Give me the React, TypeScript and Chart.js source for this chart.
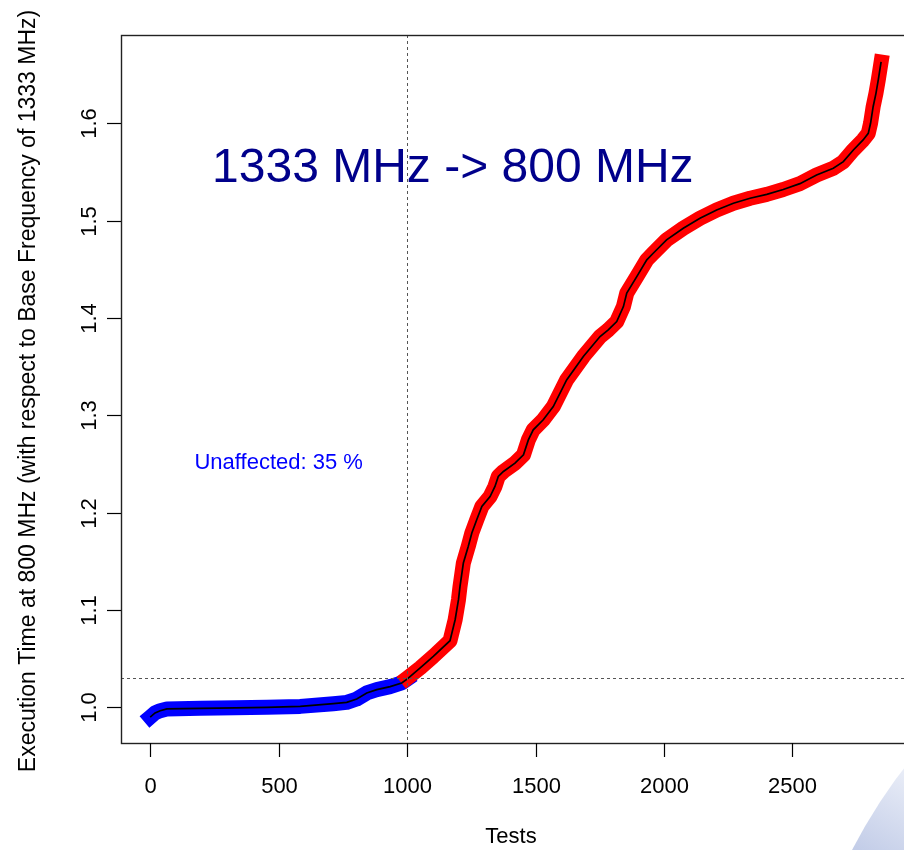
import React, { useEffect, useRef } from "react";
import { Chart, registerables } from "chart.js";

Chart.register(...registerables);

// ---- data ----
const blueTests = [0, 19, 39, 65, 195, 330, 454, 584, 713, 765, 804, 843, 882, 934, 979, 1000];
const blueTimes = [0.990, 0.9943, 0.9966, 0.9984, 0.999, 0.9995, 1.0, 1.001, 1.0038, 1.0051, 1.0086, 1.0148, 1.0182, 1.0213, 1.0251, 1.029];

const redTests = [1000, 1051, 1102, 1167, 1187, 1200, 1206, 1219, 1238, 1252, 1271, 1291, 1323, 1342, 1355, 1375, 1420, 1453, 1472, 1491, 1530, 1569, 1621, 1686, 1751, 1783, 1816, 1842, 1855, 1894, 1933, 1958, 2010, 2075, 2140, 2205, 2270, 2335, 2400, 2464, 2529, 2594, 2659, 2698, 2737, 2775, 2795, 2804, 2814, 2825, 2834, 2845];
const redTimes = [1.030, 1.0405, 1.0524, 1.0685, 1.090, 1.1106, 1.1242, 1.1483, 1.1653, 1.1791, 1.1927, 1.2064, 1.2166, 1.2269, 1.2372, 1.2423, 1.2509, 1.2594, 1.2748, 1.2851, 1.2954, 1.309, 1.3364, 1.3604, 1.3809, 1.3878, 1.3963, 1.4117, 1.4255, 1.4425, 1.4597, 1.4665, 1.4802, 1.4922, 1.5025, 1.511, 1.5179, 1.523, 1.527, 1.532, 1.538, 1.5469, 1.5538, 1.5606, 1.5726, 1.5829, 1.5897, 1.600, 1.617, 1.6308, 1.6445, 1.663];

const xTicks = [0, 500, 1000, 1500, 2000, 2500];
const yTicks = [1.0, 1.1, 1.2, 1.3, 1.4, 1.5, 1.6];
const yTickLabels = ["1.0", "1.1", "1.2", "1.3", "1.4", "1.5", "1.6"];

const thresholdTime = 1.03;
const thresholdTest = 1000;

const titleText = "1333 MHz -> 800 MHz";
const titlePos = [1178, 1.5577];
const noteText = "Unaffected: 35 %";
const notePos = [500, 1.253];
const xTitle = "Tests";
const yTitle = "Execution Time at 800 MHz (with respect to Base Frequency of 1333 MHz)";

const FONT = "'Liberation Sans', Arial, Helvetica, sans-serif";

const pts = (xs: number[], ys: number[]) => xs.map((x, i) => ({ x, y: ys[i] }));

const decorPlugin = {
  id: "rdecor",
  beforeDraw(chart: any) {
    const ctx = chart.ctx;
    ctx.save();
    // background swoosh decoration (bottom right)
    const g = ctx.createLinearGradient(912, 760, 860, 850);
    g.addColorStop(0, "#eef1f9");
    g.addColorStop(1, "#c3cde8");
    ctx.fillStyle = g;
    ctx.beginPath();
    ctx.moveTo(852, 850);
    ctx.quadraticCurveTo(878, 800, 912, 758);
    ctx.lineTo(912, 850);
    ctx.closePath();
    ctx.fill();
    ctx.restore();
  },
  afterDatasetsDraw(chart: any) {
    const ctx = chart.ctx;
    const xs = chart.scales.x;
    const ys = chart.scales.y;
    const { left, right, top, bottom } = chart.chartArea;
    ctx.save();

    // annotations
    ctx.textAlign = "center";
    ctx.textBaseline = "alphabetic";
    ctx.fillStyle = "#00008b";
    ctx.font = `48px ${FONT}`;
    ctx.fillText(titleText, xs.getPixelForValue(titlePos[0]), ys.getPixelForValue(titlePos[1]) + 0.716 * 48 / 2);
    ctx.fillStyle = "#0000ff";
    ctx.font = `22px ${FONT}`;
    ctx.fillText(noteText, xs.getPixelForValue(notePos[0]), ys.getPixelForValue(notePos[1]) + 0.716 * 22 / 2);

    // dashed reference lines
    ctx.strokeStyle = "#555";
    ctx.lineWidth = 1;
    ctx.setLineDash([3, 3]);
    const hy = Math.round(ys.getPixelForValue(thresholdTime)) + 0.5;
    ctx.beginPath();
    ctx.moveTo(left, hy);
    ctx.lineTo(right, hy);
    ctx.stroke();
    const vx = Math.round(xs.getPixelForValue(thresholdTest)) + 0.5;
    ctx.beginPath();
    ctx.moveTo(vx, top);
    ctx.lineTo(vx, bottom);
    ctx.stroke();
    ctx.setLineDash([]);

    // box
    ctx.strokeStyle = "#222";
    ctx.lineWidth = 1.4;
    ctx.strokeRect(left + 0.5, top + 0.5, right - left, bottom - top);

    // ticks & labels
    ctx.strokeStyle = "#000";
    ctx.lineWidth = 1.2;
    ctx.fillStyle = "#000";
    ctx.font = `22px ${FONT}`;
    xTicks.forEach((t) => {
      const x = Math.round(xs.getPixelForValue(t)) + 0.5;
      ctx.beginPath();
      ctx.moveTo(x, bottom);
      ctx.lineTo(x, bottom + 14);
      ctx.stroke();
      ctx.textAlign = "center";
      ctx.fillText(String(t), x, 793);
    });
    yTicks.forEach((t, i) => {
      const y = Math.round(ys.getPixelForValue(t)) + 0.5;
      ctx.beginPath();
      ctx.moveTo(left, y);
      ctx.lineTo(left - 14, y);
      ctx.stroke();
      ctx.save();
      ctx.translate(96, y);
      ctx.rotate(-Math.PI / 2);
      ctx.textAlign = "center";
      ctx.fillText(yTickLabels[i], 0, 0);
      ctx.restore();
    });

    // axis titles
    ctx.textAlign = "center";
    ctx.fillText(xTitle, 511, 843);
    ctx.save();
    ctx.font = `23px ${FONT}`;
    ctx.translate(35, (top + bottom) / 2 + 2);
    ctx.rotate(-Math.PI / 2);
    ctx.fillText(yTitle, 0, 0);
    ctx.restore();

    ctx.restore();
  },
};

export default function App() {
  const ref = useRef<HTMLCanvasElement>(null);
  useEffect(() => {
    if (!ref.current) return;
    const allTests = blueTests.concat(redTests.slice(1));
    const allTimes = blueTimes.concat(redTimes.slice(1));
    const chart = new Chart(ref.current, {
      type: "line",
      data: {
        datasets: [
          {
            data: pts(allTests, allTimes),
            borderColor: "#000",
            borderWidth: 1.7,
            pointRadius: 0,
            tension: 0,
            order: 0,
          },
          {
            data: pts(redTests, redTimes),
            borderColor: "#ff0000",
            borderWidth: 15,
            borderCapStyle: "square",
            borderJoinStyle: "round",
            pointRadius: 0,
            tension: 0,
            order: 1,
          },
          {
            data: pts(blueTests, blueTimes),
            borderColor: "#0000ff",
            borderWidth: 15,
            borderCapStyle: "square",
            borderJoinStyle: "round",
            pointRadius: 0,
            tension: 0,
            order: 2,
          },
        ] as any,
      },
      options: {
        animation: false,
        responsive: false,
        devicePixelRatio: 1,
        layout: { padding: { left: 121, top: 35, right: 3, bottom: 107 } },
        plugins: { legend: { display: false }, tooltip: { enabled: false } },
        events: [],
        scales: {
          x: { type: "linear", min: -113.6, max: 2953.6, display: false },
          y: { type: "linear", min: 0.9634, max: 1.6907, display: false },
        },
      },
      plugins: [decorPlugin],
    });
    return () => chart.destroy();
  }, []);
  return (
    <div style={{ position: "absolute", left: 0, top: 0, width: 904, height: 850, overflow: "hidden", background: "#fff" }}>
      <canvas ref={ref} width={912} height={850} style={{ width: 912, height: 850, display: "block" }} />
    </div>
  );
}
